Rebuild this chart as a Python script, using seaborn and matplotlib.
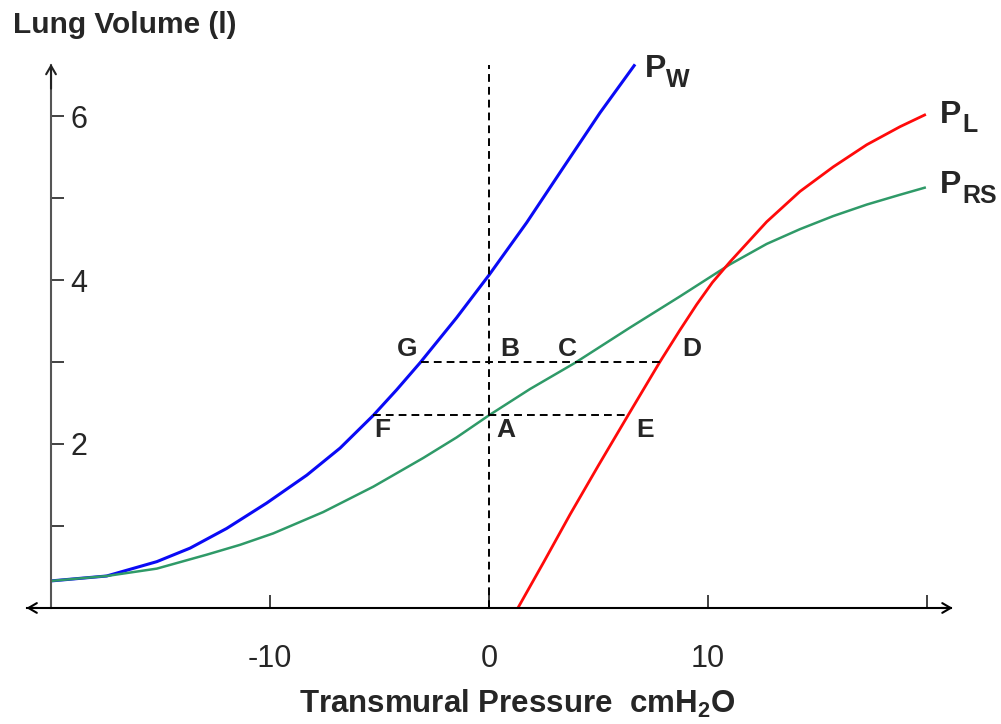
import seaborn as sns
import matplotlib.pyplot as plt
import pandas as pd

# curve values (pressure cmH2O, volume l)
pw_x = [-20, -17.46, -15.17, -13.65, -11.98, -10.15, -8.32, -6.8, -5.28, -4.22,
        -3.15, -1.48, 0, 1.72, 3.39, 5.07, 6.67]
pw_y = [0.33, 0.39, 0.565, 0.73, 0.97, 1.28, 1.62, 1.95, 2.35, 2.66,
        2.99, 3.54, 4.06, 4.7, 5.37, 6.04, 6.63]

prs_x = [-20, -17.46, -15.17, -12.89, -11.37, -9.85, -7.57, -5.28, -3.0, -1.48,
         0, 1.87, 3.93, 6.44, 8.72, 11.0, 12.68, 14.2, 15.72, 17.25, 18.77, 19.95]
prs_y = [0.33, 0.39, 0.48, 0.65, 0.77, 0.91, 1.17, 1.48, 1.83, 2.08,
         2.35, 2.67, 2.99, 3.42, 3.8, 4.19, 4.44, 4.62, 4.78, 4.92, 5.04, 5.13]

pl_x = [1.32, 2.5, 3.7, 5.0, 6.35, 7.8, 8.72, 9.48, 10.2, 11.0, 12.68, 14.2,
        15.72, 17.25, 18.77, 19.95]
pl_y = [0.0, 0.56, 1.14, 1.74, 2.35, 3.0, 3.39, 3.7, 3.97, 4.22, 4.71, 5.08,
        5.38, 5.65, 5.87, 6.02]

curve_names = ["PW", "PRS", "PL"]
curve_colors = ["#0a0af5", "#2f9a68", "#ff0a0a"]

x_ticks = [-20, -10, 0, 10, 20]
x_tick_labels = ["", "-10", "0", "10", ""]
y_ticks = [1, 2, 3, 4, 5, 6]
y_tick_labels = ["", "2", "", "4", "", "6"]

# points on the diagram
point_names = ["G", "B", "C", "D", "F", "A", "E"]
point_x = [-3.72, 0.96, 3.56, 9.27, -4.89, 0.75, 7.12]
point_y = [3.16, 3.16, 3.16, 3.16, 2.17, 2.17, 2.17]

vol_a = 2.35   # FAE level
vol_b = 3.0    # GBCD level

df = pd.concat([
    pd.DataFrame({"p": pw_x, "v": pw_y, "curve": "PW"}),
    pd.DataFrame({"p": prs_x, "v": prs_y, "curve": "PRS"}),
    pd.DataFrame({"p": pl_x, "v": pl_y, "curve": "PL"}),
])

sns.set_style("white")
plt.rcParams["font.family"] = ["Liberation Sans", "DejaVu Sans"]
plt.rcParams["mathtext.fontset"] = "custom"
plt.rcParams["mathtext.bf"] = "Liberation Sans:bold"
plt.rcParams["mathtext.rm"] = "Liberation Sans:bold"

fig = plt.figure(figsize=(10.01, 7.24), dpi=100)
ax = fig.add_axes([0, 0, 1, 1])
ax.set_xlim(-22.33, 23.38)
ax.set_ylim(-1.415, 7.415)

sns.lineplot(data=df, x="p", y="v", hue="curve", hue_order=curve_names,
             palette=dict(zip(curve_names, curve_colors)), legend=False, ax=ax)
for line, lw in zip(ax.lines, [2.2, 1.8, 2.0]):
    line.set_linewidth(lw)
    line.set_solid_capstyle("butt")
    line.set_solid_joinstyle("round")

# dashed guides
dash = dict(color="black", lw=1.4, linestyle=(0, (4, 2.6)))
ax.plot([0, 0], [0, 6.62], **dash)
ax.plot([-5.3, 6.35], [vol_a, vol_a], **dash)
ax.plot([-3.1, 7.8], [vol_b, vol_b], **dash)

# axes through the origin
for s in ["top", "right"]:
    ax.spines[s].set_visible(False)
ax.spines["left"].set_position(("data", -20))
ax.spines["left"].set_bounds(0, 6.62)
ax.spines["left"].set_color("#555555")
ax.spines["left"].set_linewidth(1.5)
ax.spines["bottom"].set_position(("data", 0))
ax.spines["bottom"].set_bounds(-21.1, 21.1)
ax.spines["bottom"].set_color("black")
ax.spines["bottom"].set_linewidth(1.5)

arrow = dict(arrowstyle="->,head_length=0.6,head_width=0.35", lw=1.5)
ax.annotate("", xy=(-20, 6.67), xytext=(-20, 6.3),
            arrowprops=dict(color="#222222", **arrow))
ax.annotate("", xy=(-21.25, 0), xytext=(-20.5, 0),
            arrowprops=dict(color="black", **arrow))
ax.annotate("", xy=(21.3, 0), xytext=(20.5, 0),
            arrowprops=dict(color="black", **arrow))

ax.set_xticks(x_ticks, x_tick_labels)
ax.set_yticks(y_ticks, y_tick_labels)
ax.tick_params(axis="x", direction="in", length=9.5, width=1.3, color="#333333",
               pad=26, labelsize=22, bottom=True)
ax.tick_params(axis="y", direction="in", length=9.5, width=1.3, color="#333333",
               pad=-26, labelsize=22, left=True)
for lab in ax.get_yticklabels():
    lab.set_horizontalalignment("right")
ax.set_xlabel("")
ax.set_ylabel("")

for name, px, py in zip(point_names, point_x, point_y):
    ax.text(px, py, name, fontsize=19, fontweight="bold", ha="center", va="center")

# curve names with subscripts
ax.text(7.12, 6.48, "P", fontsize=23, fontweight="bold", va="baseline")
ax.text(8.1, 6.35, "W", fontsize=18, fontweight="bold", va="baseline")
ax.text(20.59, 5.91, "P", fontsize=23, fontweight="bold", va="baseline")
ax.text(21.6, 5.80, "L", fontsize=18, fontweight="bold", va="baseline")
ax.text(20.59, 5.06, "P", fontsize=23, fontweight="bold", va="baseline")
ax.text(21.6, 4.94, "RS", fontsize=18, fontweight="bold", va="baseline")

ax.text(-21.74, 7.01, "Lung Volume (l)", fontsize=21.5, fontweight="bold", va="baseline")
ax.text(1.28, -1.28, r"Transmural Pressure  cmH$_\mathbf{2}$O", fontsize=22.5,
        fontweight="bold", ha="center", va="baseline")

fig.savefig("out.png", dpi=100)
